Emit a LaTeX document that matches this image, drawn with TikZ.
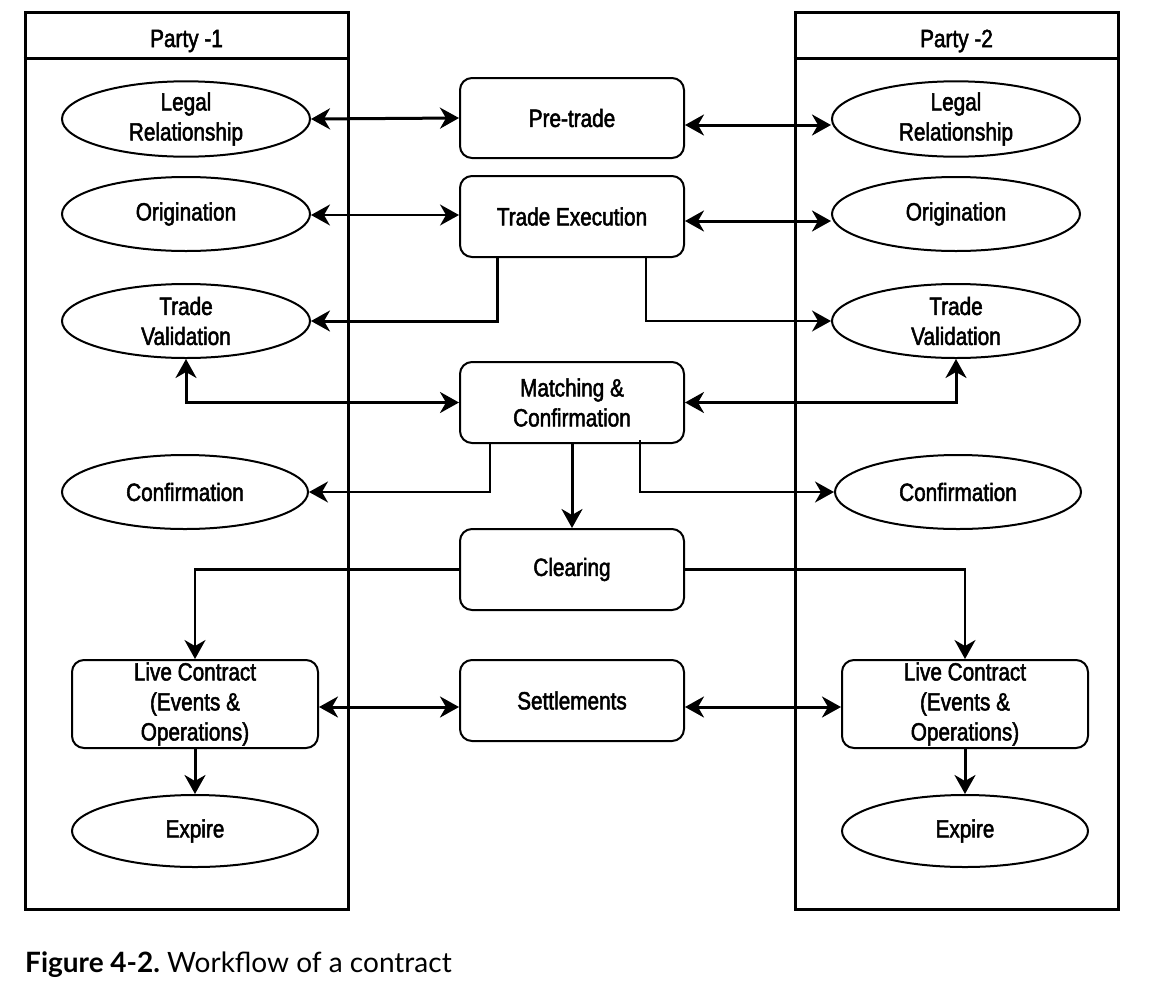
\documentclass[tikz,border=0pt]{standalone}
\usepackage{fontspec}
\usetikzlibrary{shapes.geometric,arrows.meta,calc}
\newfontfamily\labfont{Liberation Sans}[FakeStretch=0.83,FakeBold=2]
\newfontfamily\capfont{Lato}
\tikzset{
  lab/.style={font=\labfont\fontsize{25}{30}\selectfont, align=center, text=black},
  ell/.style={lab, draw, line width=2pt, ellipse, inner sep=0pt, minimum width=248, minimum height=74},
  box/.style={lab, draw, line width=2pt, rounded corners=12pt, inner sep=0pt, minimum width=224, minimum height=81},
  livebox/.style={lab, draw, line width=2pt, rounded corners=12pt, inner sep=0pt, minimum width=246, minimum height=88},
  party/.style={draw, line width=3pt, minimum width=323, minimum height=897, inner sep=0pt},
  tip/.tip={Stealth[length=19pt,width=21pt,inset=6pt]},
  thk/.style={line width=3pt},
  mid/.style={line width=2.2pt},
  thn/.style={line width=1.6pt},
}
\begin{document}
\begin{tikzpicture}[x=1pt,y=-1pt]
\useasboundingbox (0,0) rectangle (1152,983);
% party containers
\node[party] (p1) at (186.5,460.5) {};
\node[party] (p2) at (956.5,460.5) {};
\draw[line width=3pt] (p1.west |- 0,58) -- (p1.east |- 0,58);
\draw[line width=3pt] (p2.west |- 0,58) -- (p2.east |- 0,58);
\node[lab] (t1) at (186.5,41) {Party -1};
\node[lab] (t2) at (956.5,41) {Party -2};
% left ellipses
\node[ell] (l1) at (186,119) {Legal\\Relationship};
\node[ell] (o1) at (186,214) {Origination};
\node[ell] (v1) at (186,321) {Trade\\Validation};
\node[ell, minimum width=246] (c1) at (185,492) {Confirmation};
% right ellipses
\node[ell] (l2) at (956,119) {Legal\\Relationship};
\node[ell] (o2) at (956,214) {Origination};
\node[ell] (v2) at (956,321) {Trade\\Validation};
\node[ell, minimum width=246] (c2) at (958,492) {Confirmation};
% centre boxes
\node[box, minimum height=80] (pre) at (572,118) {Pre-trade};
\node[box] (exe) at (572,216.5) {Trade Execution};
\node[box] (mat) at (572,402.5) {Matching \&\\Confirmation};
\node[box] (clr) at (572,569.5) {Clearing};
\node[box] (set) at (572,700.5) {Settlements};
% live contracts and expiry
\node[livebox] (lc1) at (195,704) {Live Contract\\(Events \&\\Operations)};
\node[livebox] (lc2) at (965,704) {Live Contract\\(Events \&\\Operations)};
\node[ell, minimum width=246, minimum height=72] (ex1) at (195,831) {Expire};
\node[ell, minimum width=246, minimum height=72] (ex2) at (965,831) {Expire};
% connectors
\draw[thk, tip-tip] (l1.east) -- (pre.west);
\draw[thk, tip-tip] (pre.east |- 0,125) -- (l2.west |- 0,125);
\draw[thn, tip-tip] (o1.east |- 0,215) -- (exe.west |- 0,215);
\draw[thk, tip-tip] (exe.east |- 0,221) -- (o2.west |- 0,221);
\draw[thk, -tip] (exe.south -| 497,0) |- (v1.east);
\draw[thn, -tip] (exe.south -| 646,0) |- (v2.west);
\draw[thk, tip-tip] (v1.south) |- (mat.west);
\draw[thk, tip-tip] (mat.east) -| (v2.south);
\draw[thn, -tip] (mat.south -| 490,0) |- (c1.east);
\draw[mid, -tip] ($(mat.south -| 640,0)+(0,-4)$) |- (c2.west);
\draw[thk, -tip] (mat) -- (clr);
\draw[mid, -tip] (clr.west) -| (lc1.north);
\draw[mid, -tip] (clr.east) -| (lc2.north);
\draw[thk, tip-tip] (lc1.east |- 0,707) -- (set.west |- 0,707);
\draw[thk, tip-tip] (set.east |- 0,707) -- (lc2.west |- 0,707);
\draw[thk, -tip] (lc1) -- (ex1);
\draw[thk, -tip] (lc2) -- (ex2);
% caption
\node[anchor=base west, inner sep=0pt, font=\capfont\fontsize{28}{32}\selectfont] (cap) at (25,972) {\textbf{Figure 4-2.}\ Workflow of a contract};
\end{tikzpicture}
\end{document}
